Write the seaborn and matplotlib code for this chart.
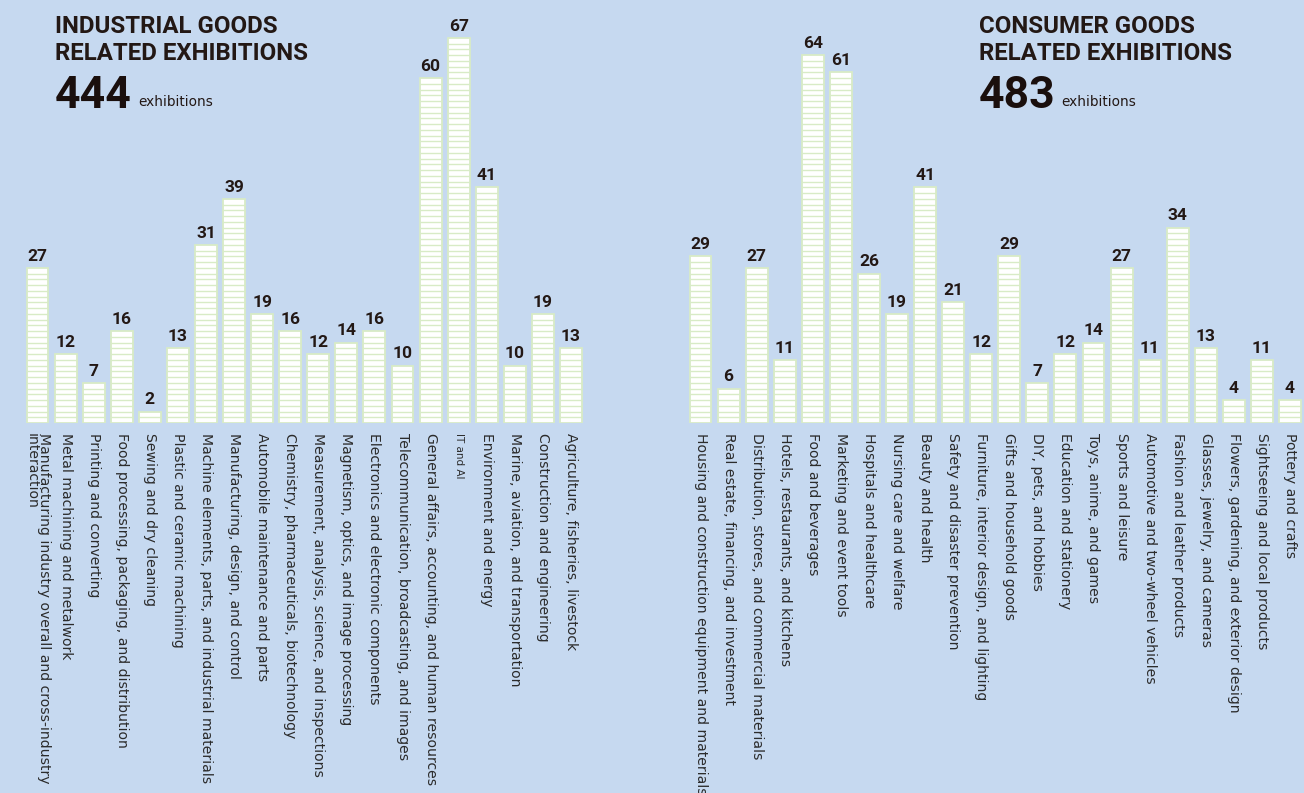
import numpy as np
import pandas as pd
import matplotlib
matplotlib.use("Agg")
import matplotlib.pyplot as plt
import seaborn as sns

ind_categories = [
    "Manufacturing industry overall and cross-industry\ninteraction",
    "Metal machining and metalwork",
    "Printing and converting",
    "Food processing, packaging, and distribution",
    "Sewing and dry cleaning",
    "Plastic and ceramic machining",
    "Machine elements, parts, and industrial materials",
    "Manufacturing, design, and control",
    "Automobile maintenance and parts",
    "Chemistry, pharmaceuticals, biotechnology",
    "Measurement, analysis, science, and inspections",
    "Magnetism, optics, and image processing",
    "Electronics and electronic components",
    "Telecommunication, broadcasting, and images",
    "General affairs, accounting, and human resources",
    "IT and AI",
    "Environment and energy",
    "Marine, aviation, and transportation",
    "Construction and engineering",
    "Agriculture, fisheries, livestock",
]
ind_values = [27, 12, 7, 16, 2, 13, 31, 39, 19, 16, 12, 14, 16, 10, 60, 67, 41, 10, 19, 13]

con_categories = [
    "Housing and construction equipment and materials",
    "Real estate, financing, and investment",
    "Distribution, stores, and commercial materials",
    "Hotels, restaurants, and kitchens",
    "Food and beverages",
    "Marketing and event tools",
    "Hospitals and healthcare",
    "Nursing care and welfare",
    "Beauty and health",
    "Safety and disaster prevention",
    "Furniture, interior design, and lighting",
    "Gifts and household goods",
    "DIY, pets, and hobbies",
    "Education and stationery",
    "Toys, anime, and games",
    "Sports and leisure",
    "Automotive and two-wheel vehicles",
    "Fashion and leather products",
    "Glasses, jewelry, and cameras",
    "Flowers, gardening, and exterior design",
    "Sightseeing and local products",
    "Pottery and crafts",
]
con_values = [29, 6, 27, 11, 64, 61, 26, 19, 41, 21, 12, 29, 7, 12, 14, 27, 11, 34, 13, 4, 11, 4]

titles = ["INDUSTRIAL GOODS\nRELATED EXHIBITIONS", "CONSUMER GOODS\nRELATED EXHIBITIONS"]
totals = ["444", "483"]

BG = "#c6d9f0"
EDGE = "#d8ebc6"
TXT = "#231815"
HEAD = ["Roboto", "DejaVu Sans"]

sns.set_theme(style="white")
plt.rcParams["font.family"] = ["DejaVu Sans"]

W, H = 1304, 793
fig = plt.figure(figsize=(W / 100, H / 100), dpi=100)
fig.patch.set_facecolor(BG)

def px_axes(x0, x1, y_bottom, y_top):
    return fig.add_axes([x0 / W, 1 - y_bottom / H, (x1 - x0) / W, (y_bottom - y_top) / H])

ymax = 70
unit = 5.75
ybot = 423
ax1 = px_axes(23.5, 585, ybot, ybot - ymax * unit)
ax2 = px_axes(686.5, 1304, ybot, ybot - ymax * unit)

for ax, cats, vals in [(ax1, ind_categories, ind_values), (ax2, con_categories, con_values)]:
    df = pd.DataFrame({"cat": cats, "val": vals})
    sns.barplot(data=df, x="cat", y="val", ax=ax, color="white", width=0.78,
                edgecolor=EDGE, linewidth=1.3, saturation=1)
    for p in ax.patches:
        x0, w, h = p.get_x(), p.get_width(), p.get_height()
        ys = np.arange(1, int(round(h)))
        ax.hlines(ys, x0, x0 + w, color=EDGE, lw=1.0, zorder=3)
    for c in ax.containers:
        ax.bar_label(c, padding=3, fontsize=12.5, fontweight="bold", color=TXT,
                     family=HEAD)
    ax.set_facecolor(BG)
    ax.set_ylim(0, ymax)
    ax.set_xlim(-0.5, len(cats) - 0.5)
    ax.set_xlabel("")
    ax.set_ylabel("")
    ax.set_yticks([])
    sns.despine(ax=ax, left=True, bottom=True)
    ax.tick_params(axis="x", length=0, pad=7)
    ax.set_xticks(range(len(cats)))
    ax.set_xticklabels(cats, rotation=-90, ha="center", va="top", fontsize=10.1,
                       color="#2b2b2b", linespacing=0.85, multialignment="left")
    for t in ax.get_xticklabels():
        if t.get_text() == "IT and AI":
            t.set_fontsize(7.5)

renderer = fig.canvas.get_renderer()
for x, title, total in [(55, titles[0], totals[0]), (979, titles[1], totals[1])]:
    fig.text(x / W, 1 - 15 / H, title, ha="left", va="top", fontsize=17.3,
             fontweight="bold", color=TXT, linespacing=1.2, family=HEAD)
    tt = fig.text(x / W, 1 - 108 / H, total, ha="left", va="baseline", fontsize=32,
                  fontweight="bold", color="#1a0f0d", family=HEAD)
    bb = tt.get_window_extent(renderer=renderer)
    fig.text((bb.x1 + 6) / W, 1 - 106 / H, "exhibitions", ha="left", va="baseline",
             fontsize=9.8, color=TXT)

fig.savefig("out.png", dpi=100, facecolor=BG)
